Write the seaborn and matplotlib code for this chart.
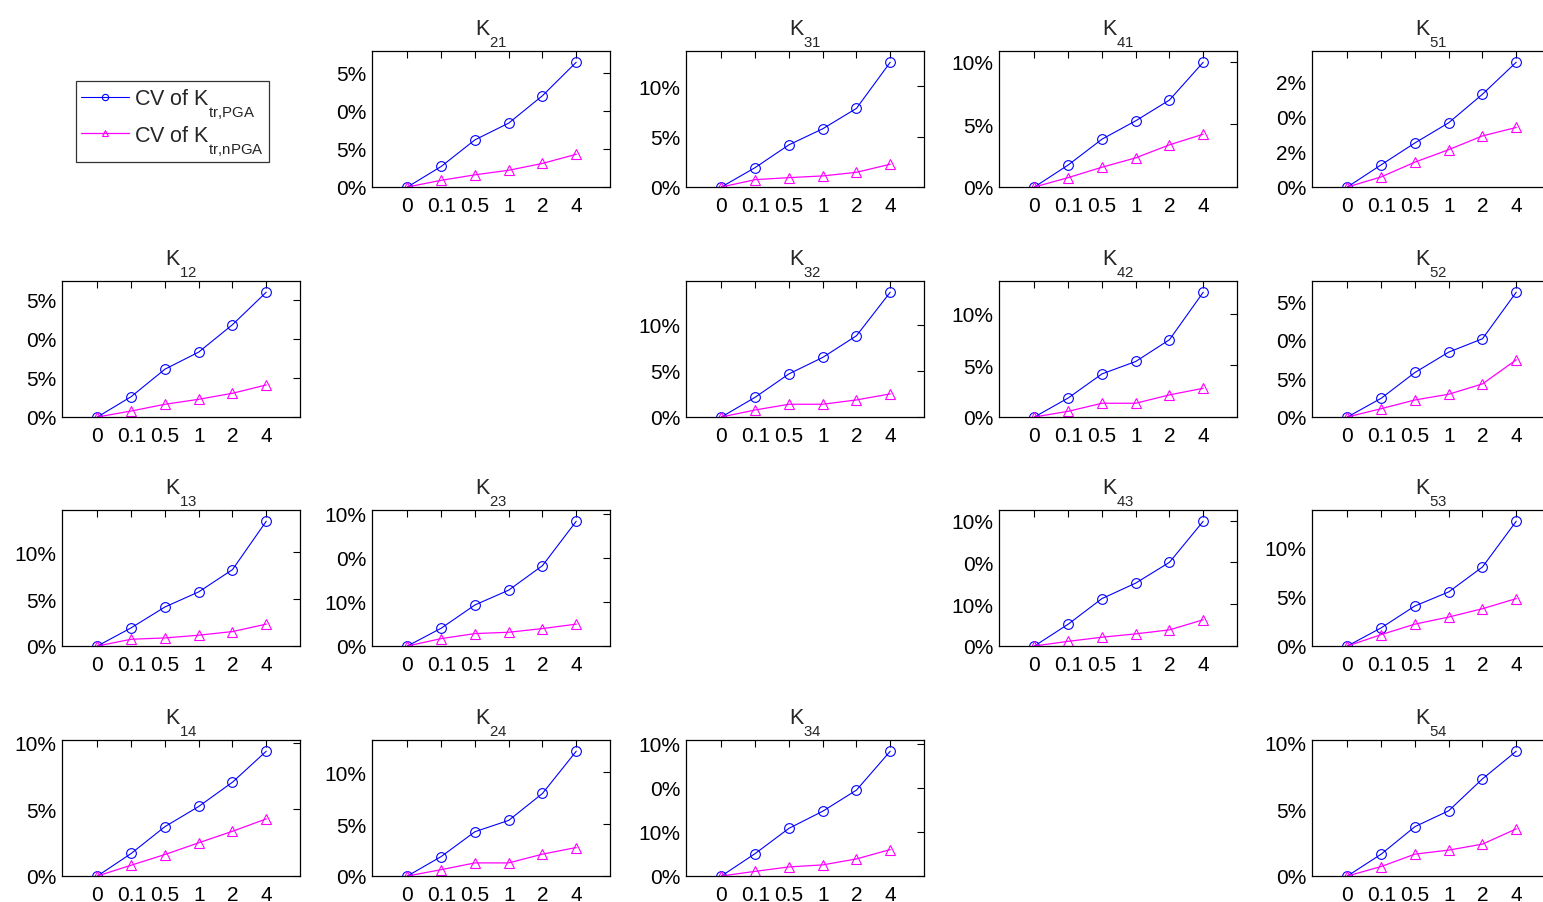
import matplotlib
matplotlib.use("Agg")
import matplotlib.pyplot as plt
import seaborn as sns
import pandas as pd

try:
    import matplotlib._mathtext as _mt
    _mt.FontConstantsBase.sub1 = 1.0
except Exception:
    pass

sns.set_style("white")
plt.rcParams['font.family'] = ['Liberation Sans', 'DejaVu Sans']
plt.rcParams['mathtext.fontset'] = 'custom'
plt.rcParams['mathtext.rm'] = 'Liberation Sans'
plt.rcParams['mathtext.it'] = 'Liberation Sans'

X_LABELS = ["0", "0.1", "0.5", "1", "2", "4"]

# CV values (%)
PGA_21 = [0, 2.7, 6.2, 8.4, 12.0, 16.4]
NPGA_21 = [0, 0.88, 1.6, 2.2, 3.1, 4.3]
PGA_31 = [0, 1.93, 4.19, 5.78, 7.81, 12.39]
NPGA_31 = [0, 0.73, 0.93, 1.10, 1.46, 2.26]
PGA_41 = [0, 1.76, 3.82, 5.29, 6.95, 9.97]
NPGA_41 = [0, 0.75, 1.58, 2.33, 3.37, 4.22]
PGA_51 = [0, 3.16, 6.27, 9.14, 13.2, 17.75]
NPGA_51 = [0, 1.44, 3.54, 5.31, 7.27, 8.47]
PGA_12 = [0, 2.61, 6.13, 8.32, 11.83, 15.99]
NPGA_12 = [0, 0.77, 1.63, 2.27, 3.04, 4.11]
PGA_32 = [0, 2.14, 4.67, 6.45, 8.80, 13.51]
NPGA_32 = [0, 0.76, 1.38, 1.38, 1.85, 2.5]
PGA_42 = [0, 1.84, 4.17, 5.37, 7.48, 12.07]
NPGA_42 = [0, 0.55, 1.33, 1.33, 2.14, 2.78]
PGA_52 = [0, 2.43, 5.77, 8.41, 10.14, 16.17]
NPGA_52 = [0, 1.08, 2.21, 2.95, 4.29, 7.41]
PGA_13 = [0, 1.94, 4.16, 5.77, 8.14, 13.3]
NPGA_13 = [0, 0.72, 0.86, 1.15, 1.54, 2.33]
PGA_23 = [0, 2.02, 4.66, 6.34, 9.12, 14.16]
NPGA_23 = [0, 0.84, 1.41, 1.56, 1.98, 2.48]
PGA_43 = [0, 2.61, 5.67, 7.52, 10.01, 14.92]
NPGA_43 = [0, 0.56, 1.05, 1.45, 1.93, 3.14]
PGA_53 = [0, 1.85, 4.08, 5.51, 8.05, 12.71]
NPGA_53 = [0, 1.16, 2.23, 2.95, 3.80, 4.83]
PGA_14 = [0, 1.69, 3.70, 5.21, 7.03, 9.35]
NPGA_14 = [0, 0.81, 1.61, 2.49, 3.35, 4.28]
PGA_24 = [0, 1.87, 4.26, 5.35, 7.94, 12.0]
NPGA_24 = [0, 0.61, 1.26, 1.26, 2.10, 2.74]
PGA_34 = [0, 2.55, 5.41, 7.35, 9.75, 14.16]
NPGA_34 = [0, 0.53, 1.03, 1.26, 1.94, 3.0]
PGA_54 = [0, 1.64, 3.70, 4.89, 7.28, 9.35]
NPGA_54 = [0, 0.71, 1.64, 1.94, 2.39, 3.53]

# y tick labels as printed in the picture (ticks every 5 %)
YT_21 = ["0%", "5%", "0%", "5%"]
YT_31 = ["0%", "5%", "10%"]
YT_41 = ["0%", "5%", "10%"]
YT_51 = ["0%", "2%", "0%", "2%"]
YT_12 = ["0%", "5%", "0%", "5%"]
YT_32 = ["0%", "5%", "10%"]
YT_42 = ["0%", "5%", "10%"]
YT_52 = ["0%", "5%", "0%", "5%"]
YT_13 = ["0%", "5%", "10%"]
YT_23 = ["0%", "10%", "0%", "10%"]
YT_43 = ["0%", "10%", "0%", "10%"]
YT_53 = ["0%", "5%", "10%"]
YT_14 = ["0%", "5%", "10%"]
YT_24 = ["0%", "5%", "10%"]
YT_34 = ["0%", "10%", "0%", "10%"]
YT_54 = ["0%", "5%", "10%"]

# (name, row, col, pga, npga, yticklabels)
PANELS = [
    ("21", 0, 1, PGA_21, NPGA_21, YT_21),
    ("31", 0, 2, PGA_31, NPGA_31, YT_31),
    ("41", 0, 3, PGA_41, NPGA_41, YT_41),
    ("51", 0, 4, PGA_51, NPGA_51, YT_51),
    ("12", 1, 0, PGA_12, NPGA_12, YT_12),
    ("32", 1, 2, PGA_32, NPGA_32, YT_32),
    ("42", 1, 3, PGA_42, NPGA_42, YT_42),
    ("52", 1, 4, PGA_52, NPGA_52, YT_52),
    ("13", 2, 0, PGA_13, NPGA_13, YT_13),
    ("23", 2, 1, PGA_23, NPGA_23, YT_23),
    ("43", 2, 3, PGA_43, NPGA_43, YT_43),
    ("53", 2, 4, PGA_53, NPGA_53, YT_53),
    ("14", 3, 0, PGA_14, NPGA_14, YT_14),
    ("24", 3, 1, PGA_24, NPGA_24, YT_24),
    ("34", 3, 2, PGA_34, NPGA_34, YT_34),
    ("54", 3, 4, PGA_54, NPGA_54, YT_54),
]

W, H = 1543, 903
fig = plt.figure(figsize=(W / 100, H / 100), dpi=100)
fig.patch.set_facecolor("white")

COL_LEFT = [62, 372, 686, 999, 1312]
ROW_TOP = [52, 282, 511, 741]
AX_W, AX_H = 238, 136

handles = None
for name, r, c, pga, npga, ytl in PANELS:
    ax = fig.add_axes([COL_LEFT[c] / W, 1 - (ROW_TOP[r] + AX_H) / H, AX_W / W, AX_H / H])
    pos = list(range(len(X_LABELS)))
    df1 = pd.DataFrame({"x": pos, "y": pga})
    df2 = pd.DataFrame({"x": pos, "y": npga})
    sns.lineplot(data=df1, x="x", y="y", ax=ax, color="blue", marker="o", ms=7,
                 mfc="none", mec="blue", mew=0.8, lw=0.8)
    sns.lineplot(data=df2, x="x", y="y", ax=ax, color="magenta", marker="^", ms=7.5,
                 mfc="none", mec="magenta", mew=0.8, lw=0.9)
    ax.set_xlim(-1.05, 6.0)
    ax.set_ylim(0, 1.09 * max(pga))
    ax.set_xticks(pos)
    ax.set_xticklabels(X_LABELS)
    ax.set_yticks([5 * k for k in range(len(ytl))])
    ax.set_yticklabels(ytl)
    ax.set_xlabel("")
    ax.set_ylabel("")
    ax.tick_params(direction="in", length=5, width=0.8, top=True, right=True,
                   labelsize=15, colors="black")
    ax.tick_params(axis="x", pad=6.3)
    ax.tick_params(axis="y", pad=4)
    for s in ax.spines.values():
        s.set_visible(True)
        s.set_color("black")
        s.set_linewidth(0.9)
    ax.set_title(r"$\mathregular{K_{%s}}$" % name, fontsize=15.5, pad=12)
    if handles is None:
        handles = ax.get_lines()[:2]

leg = fig.legend(handles,
                 [r"CV of $\mathregular{K_{tr{,}PGA}}$", r"CV of $\mathregular{K_{tr{,}nPGA}}$"],
                 loc="upper left", bbox_to_anchor=(76 / W, 1 - 82 / H),
                 fontsize=15.5, frameon=True, fancybox=False, handlelength=2.2,
                 markerscale=0.65, borderpad=0.25, labelspacing=0.12,
                 handletextpad=0.25, borderaxespad=0)
leg.get_frame().set_edgecolor("black")
leg.get_frame().set_linewidth(0.9)

fig.savefig("out.png", dpi=100, facecolor="white")
